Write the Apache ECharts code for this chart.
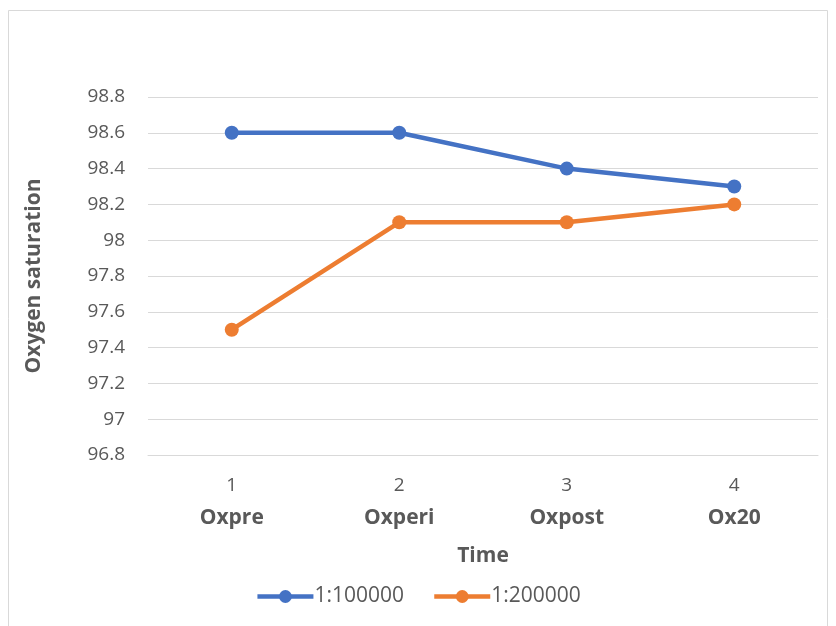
<!DOCTYPE html>
<html><head><meta charset="utf-8">
<script src="https://cdn.jsdelivr.net/npm/echarts@6/dist/echarts.min.js"></script>
<style>html,body{margin:0;padding:0;background:#fff}#c{width:836px;height:626px}</style>
</head><body><div id="c"></div>
<script>
const tickNumbers = ['1', '2', '3', '4'];
const categories = ['Oxpre', 'Oxperi', 'Oxpost', 'Ox20'];
const series1Name = '1:100000';
const series1 = [98.6, 98.6, 98.4, 98.3];
const series2Name = '1:200000';
const series2 = [97.5, 98.1, 98.1, 98.2];
const yMin = 96.8, yMax = 98.8, yStep = 0.2;

const font = '"Open Sans", "Liberation Sans", sans-serif';
const chart = echarts.init(document.getElementById('c'));
chart.setOption({
  animation: false,
  backgroundColor: '#fff',
  graphic: [{type: 'rect', shape: {x: 8.5, y: 10.5, width: 819, height: 640}, style: {fill: 'none', stroke: '#d9d9d9', lineWidth: 1}}],
  grid: {left: 148, right: 18, top: 97, height: 358},
  xAxis: {
    type: 'category',
    data: categories,
    boundaryGap: true,
    axisLine: {lineStyle: {color: '#d9d9d9', width: 1}},
    axisTick: {show: false},
    axisLabel: {
      margin: 15,
      formatter: function (v, i) { return '{a|' + tickNumbers[i] + '}\n{b|' + v + '}'; },
      rich: {
        a: {fontFamily: font, fontSize: 19, color: '#595959', lineHeight: 32},
        b: {fontFamily: font, fontSize: 21, fontWeight: 'bold', color: '#595959', lineHeight: 32}
      }
    },
    name: 'Time',
    nameLocation: 'middle',
    nameGap: 91,
    nameTextStyle: {fontFamily: font, fontSize: 21, fontWeight: 'bold', color: '#595959'}
  },
  yAxis: {
    type: 'value',
    min: yMin, max: yMax, interval: yStep,
    axisLine: {show: false},
    axisTick: {show: false},
    splitLine: {lineStyle: {color: '#d9d9d9', width: 1}},
    axisLabel: {
      margin: 23,
      fontFamily: font, fontSize: 19, color: '#595959',
      formatter: function (v) { return String(parseFloat(v.toFixed(1))); }
    },
    name: 'Oxygen saturation',
    nameLocation: 'middle',
    nameGap: 103,
    nameRotate: 90,
    nameTextStyle: {fontFamily: font, fontSize: 21, fontWeight: 'bold', color: '#595959'}
  },
  legend: {
    bottom: 14,
    left: 'center',
    itemWidth: 56,
    itemHeight: 16,
    itemGap: 28,
    lineStyle: {width: 4.5},
    textStyle: {fontFamily: font, fontSize: 21, color: '#595959', padding: [0, 0, 0, -4]},
    data: [series1Name, series2Name]
  },
  series: [
    {name: series1Name, type: 'line', data: series1, symbol: 'circle', symbolSize: 14,
     lineStyle: {width: 4.5, color: '#4472C4'}, itemStyle: {color: '#4472C4'}},
    {name: series2Name, type: 'line', data: series2, symbol: 'circle', symbolSize: 14,
     lineStyle: {width: 4.5, color: '#ED7D31'}, itemStyle: {color: '#ED7D31'}}
  ]
});
</script></body></html>
